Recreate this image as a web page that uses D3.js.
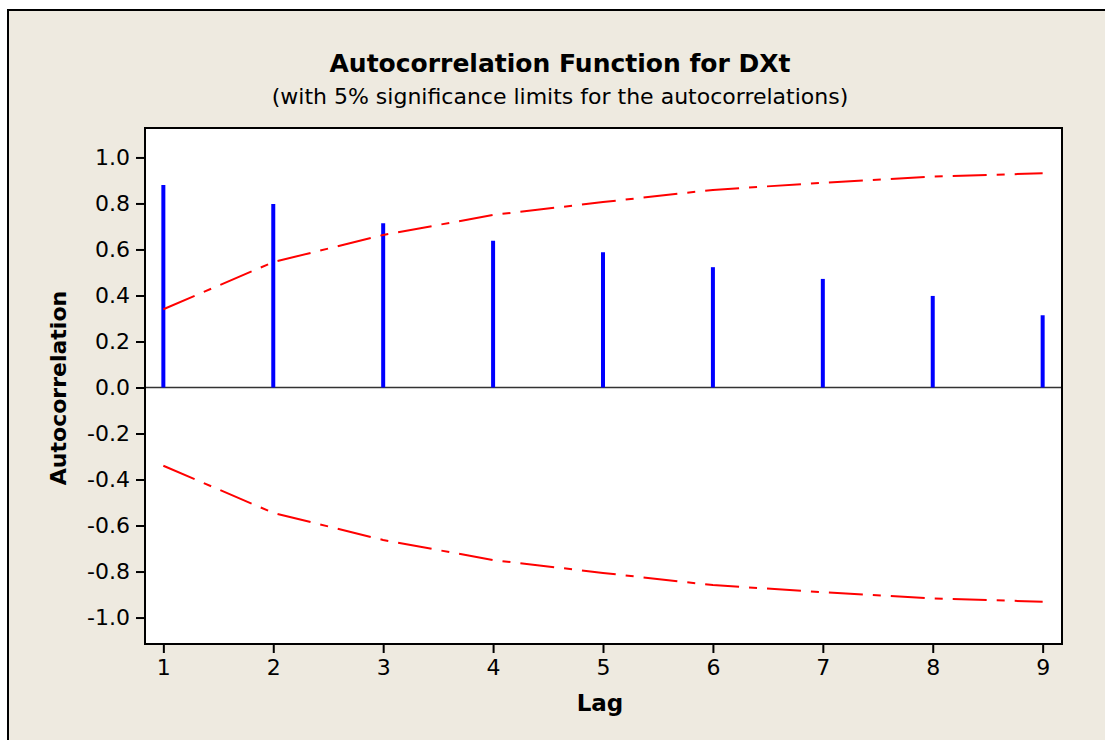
<!DOCTYPE html>
<html>
<head>
<meta charset="utf-8">
<script src="https://cdn.jsdelivr.net/npm/d3@7"></script>
<style>
  body { margin: 0; background: #fff; }
  svg { display: block; }
</style>
</head>
<body>
<svg id="svg" width="1105" height="740"></svg>
<script>
// ---- data ----
const lags = [1, 2, 3, 4, 5, 6, 7, 8, 9];
const acf = [0.880, 0.798, 0.714, 0.638, 0.588, 0.523, 0.472, 0.398, 0.314];
const upperLimit = [0.340, 0.545, 0.663, 0.750, 0.806, 0.859, 0.890, 0.917, 0.931];
const lowerLimit = upperLimit.map(v => -v);
const yTicks = [-1.0, -0.8, -0.6, -0.4, -0.2, 0.0, 0.2, 0.4, 0.6, 0.8, 1.0];

const font = "'DejaVu Sans', Verdana, sans-serif";
const svg = d3.select('#svg');

// frame (beige panel)
svg.append('rect')
  .attr('x', 8).attr('y', 10)
  .attr('width', 1200).attr('height', 800)
  .attr('fill', '#eeeae0')
  .attr('stroke', '#000')
  .attr('stroke-width', 2);

const plot = { left: 145, top: 128, right: 1062, bottom: 644 };

const x = d3.scaleLinear()
  .domain([0.833, 9.176])
  .range([plot.left, plot.right]);

const y = d3.scaleLinear()
  .domain([-1.115, 1.128])
  .range([plot.bottom, plot.top]);

// plot area
svg.append('rect')
  .attr('x', plot.left).attr('y', plot.top)
  .attr('width', plot.right - plot.left)
  .attr('height', plot.bottom - plot.top)
  .attr('fill', '#fff');

// zero line
svg.append('line')
  .attr('x1', plot.left).attr('x2', plot.right)
  .attr('y1', y(0)).attr('y2', y(0))
  .attr('stroke', '#333')
  .attr('stroke-width', 1.5);

// ---- acf bars ----
svg.selectAll('line.bar')
  .data(lags)
  .enter()
  .append('line')
  .attr('class', 'bar')
  .attr('x1', d => x(d)).attr('x2', d => x(d))
  .attr('y1', y(0))
  .attr('y2', (d, i) => y(acf[i]))
  .attr('stroke', '#0000ff')
  .attr('stroke-width', 4);

// ---- significance limits ----
const limitLine = d3.line()
  .x((d, i) => x(lags[i]))
  .y(d => y(d));

[upperLimit, lowerLimit].forEach(vals => {
  svg.append('path')
    .datum(vals)
    .attr('d', limitLine)
    .attr('fill', 'none')
    .attr('stroke', '#ff0000')
    .attr('stroke-width', 2)
    .attr('stroke-dasharray', '34,10,8,10');
});

// border on top of the marks
svg.append('rect')
  .attr('x', plot.left).attr('y', plot.top)
  .attr('width', plot.right - plot.left)
  .attr('height', plot.bottom - plot.top)
  .attr('fill', 'none')
  .attr('stroke', '#000')
  .attr('stroke-width', 2);

// ---- axes ----
const xAxis = d3.axisBottom(x)
  .tickValues(lags)
  .tickFormat(d3.format('d'))
  .tickSizeInner(9)
  .tickSizeOuter(0)
  .tickPadding(6);

const yAxis = d3.axisLeft(y)
  .tickValues(yTicks)
  .tickFormat(d3.format('.1f'))
  .tickSizeInner(9)
  .tickSizeOuter(0)
  .tickPadding(6);

const gx = svg.append('g')
  .attr('transform', `translate(0,${plot.bottom})`)
  .call(xAxis);

const gy = svg.append('g')
  .attr('transform', `translate(${plot.left},0)`)
  .call(yAxis);

[gx, gy].forEach(g => {
  g.select('.domain').remove();
  g.selectAll('line').attr('stroke', '#000').attr('stroke-width', 2);
  g.selectAll('text')
    .attr('fill', '#000')
    .style('font-family', font)
    .style('font-size', '22px');
});

// minus sign like the original (hyphen)
gy.selectAll('text').text(d => d3.format('.1f')(d).replace('\u2212', '-'));

// ---- titles ----
svg.append('text')
  .attr('x', 560).attr('y', 72)
  .attr('text-anchor', 'middle')
  .style('font-family', font)
  .style('font-weight', 'bold')
  .style('font-size', '25px')
  .text('Autocorrelation Function for DXt');

svg.append('text')
  .attr('x', 560).attr('y', 104)
  .attr('text-anchor', 'middle')
  .style('font-family', font)
  .style('font-size', '22px')
  .text('(with 5% significance limits for the autocorrelations)');

svg.append('text')
  .attr('x', 600).attr('y', 711)
  .attr('text-anchor', 'middle')
  .style('font-family', font)
  .style('font-weight', 'bold')
  .style('font-size', '23px')
  .text('Lag');

svg.append('text')
  .attr('transform', 'translate(66,388) rotate(-90)')
  .attr('text-anchor', 'middle')
  .style('font-family', font)
  .style('font-weight', 'bold')
  .style('font-size', '22px')
  .text('Autocorrelation');
</script>
</body>
</html>
